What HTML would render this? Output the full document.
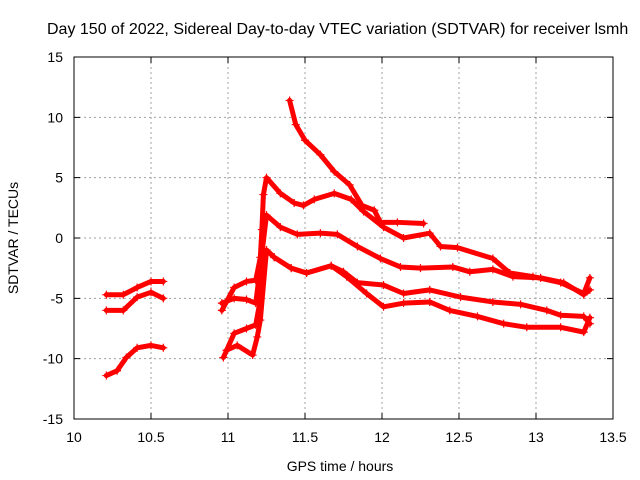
<!DOCTYPE html>
<html><head><meta charset="utf-8"><style>
body{margin:0;background:#fff}
svg{display:block;font-family:"Liberation Sans",sans-serif;font-size:14px}
</style></head><body>
<svg id="chart" width="640" height="480" xmlns="http://www.w3.org/2000/svg">
<rect width="640" height="480" fill="#fff"/>
<text x="47" y="34" font-size="16">Day 150 of 2022, Sidereal Day-to-day VTEC variation (SDTVAR) for receiver lsmh</text>
<text x="340" y="471" text-anchor="middle">GPS time / hours</text>
<text x="18" y="238" text-anchor="middle" transform="rotate(-90 18 238)">SDTVAR / TECUs</text>
<g id="grid"></g>
<g id="series"></g>
<rect x="74" y="57" width="539" height="362" fill="none" stroke="#000"/>
<g id="ticks"></g>
</svg>
<script>
const xTicks=[10,10.5,11,11.5,12,12.5,13,13.5];
const xTickLabels=["10","10.5","11","11.5","12","12.5","13","13.5"];
const yTicks=[-15,-10,-5,0,5,10,15];
const yTickLabels=["-15","-10","-5","0","5","10","15"];
const sAx=[11.40,11.44,11.5,11.6,11.69,11.79,11.87,11.95,11.99,12.1,12.27];
const sAy=[11.4,9.4,8.1,6.9,5.5,4.4,2.7,2.3,1.3,1.3,1.2];
const sBx=[10.96,11.04,11.12,11.18,11.21,11.22,11.23,11.25,11.34,11.43,11.49,11.56,11.69,11.8,11.88,12.01,12.14,12.31,12.38,12.49,12.72,12.83,12.98,13.16,13.31,13.35];
const sBy=[-6,-4.1,-3.6,-3.5,-1.6,0.7,3.6,5.0,3.7,2.9,2.7,3.2,3.7,3.2,2.2,0.9,0,0.4,-0.7,-0.8,-1.7,-2.9,-3.2,-3.7,-4.6,-3.3];
const sCx=[10.96,11.04,11.12,11.18,11.21,11.25,11.34,11.45,11.6,11.71,11.84,11.99,12.12,12.25,12.46,12.57,12.72,12.85,13.03,13.18,13.31,13.35];
const sCy=[-5.4,-5,-5.1,-5.4,-2.4,1.9,0.9,0.3,0.4,0.3,-0.7,-1.7,-2.4,-2.5,-2.4,-2.8,-2.6,-3.2,-3.3,-3.7,-4.7,-4.3];
const sDx=[10.97,11.04,11.12,11.18,11.21,11.25,11.3,11.41,11.51,11.67,11.75,11.84,12.01,12.14,12.31,12.51,12.72,12.9,13.07,13.16,13.31,13.35];
const sDy=[-9.9,-7.9,-7.5,-7.2,-5.1,-1.0,-1.6,-2.5,-2.9,-2.3,-2.8,-3.7,-3.9,-4.6,-4.3,-4.9,-5.3,-5.5,-6,-6.4,-6.5,-7.1];
const sEx=[10.99,11.06,11.16,11.19,11.21,11.25,11.3,11.41,11.51,11.67,11.77,11.9,12.01,12.14,12.31,12.44,12.62,12.79,12.94,13.16,13.31,13.35];
const sEy=[-9.3,-8.9,-9.7,-8.2,-6.8,-1.0,-1.6,-2.5,-2.9,-2.3,-3.2,-4.6,-5.7,-5.4,-5.3,-6,-6.5,-7.1,-7.4,-7.4,-7.8,-6.6];
const sFx=[10.21,10.32,10.41,10.5,10.58];
const sFy=[-4.7,-4.7,-4.1,-3.6,-3.6];
const sGx=[10.21,10.32,10.41,10.5,10.58];
const sGy=[-6,-6,-4.9,-4.5,-5];
const sHx=[10.21,10.28,10.34,10.41,10.5,10.58];
const sHy=[-11.4,-11,-9.9,-9.1,-8.9,-9.1];
const seriesList=[[sAx,sAy],[sBx,sBy],[sCx,sCy],[sDx,sDy],[sEx,sEy],[sFx,sFy],[sGx,sGy],[sHx,sHy]];

const X0=74,X1=613,Y0=419,Y1=57;
const xs=v=>X0+(v-10)/3.5*(X1-X0);
const ys=v=>Y0-(v+15)/30*(Y0-Y1);
const NS="http://www.w3.org/2000/svg";
const grid=document.getElementById('grid'),ticks=document.getElementById('ticks'),ser=document.getElementById('series');
function mk(tag,attrs,parent){const e=document.createElementNS(NS,tag);for(const k in attrs)e.setAttribute(k,attrs[k]);parent.appendChild(e);return e;}
xTicks.forEach((t,i)=>{const x=xs(t);
 if(i>0&&i<xTicks.length-1){const g=mk('line',{x1:x,x2:x,y1:Y0,y2:Y1,stroke:'#a0a0a0','stroke-dasharray':'2,3'},grid);
 
 }
 const a=mk('path',{d:`M${x},${Y0}v-6M${x},${Y1}v6`,stroke:'#000'},ticks);
 
 
 const l=mk('text',{x:x,y:442,'text-anchor':'middle'},ticks);l.textContent=xTickLabels[i];
 
 
});
yTicks.forEach((t,i)=>{const y=ys(t);
 if(i>0&&i<yTicks.length-1){const g=mk('line',{x1:X0,x2:X1,y1:y,y2:y,stroke:'#a0a0a0','stroke-dasharray':'2,3'},grid);
 
 }
 const a=mk('path',{d:`M${X0},${y}h6M${X1},${y}h-6`,stroke:'#000'},ticks);
 
 
 const l=mk('text',{x:63,y:y+5,'text-anchor':'end'},ticks);l.textContent=yTickLabels[i];
 
 
});
seriesList.forEach((s,si)=>{const [sx,sy]=s;
 const pts=sx.map((v,i)=>xs(v)+','+ys(sy[i])).join(' ');
 const pl=mk('polyline',{points:pts,fill:'none',stroke:'#ff0000','stroke-width':5,'stroke-linejoin':'round','stroke-linecap':'round'},ser);
 
 
 sx.forEach((v,i)=>{const x=xs(v),y=ys(sy[i]);
  const m=mk('path',{d:`M${x-4},${y}h8M${x},${y-4}v8`,stroke:'#ff0000','stroke-width':1.2},ser);
  
  
 });
});
</script>
</body></html>
